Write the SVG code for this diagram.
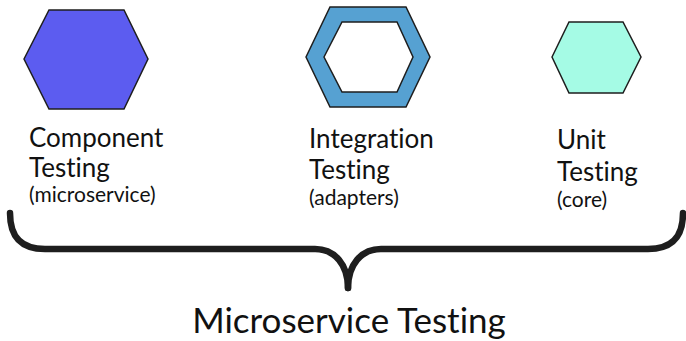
<svg xmlns="http://www.w3.org/2000/svg" width="686" height="341" viewBox="0 0 686 341">
<style>
text{font-family:Lato,"Open Sans",sans-serif;fill:#111;font-variant-ligatures:none;font-feature-settings:"liga" 0,"clig" 0}
.hex{stroke:#1e1e1e;stroke-width:1.5;stroke-linejoin:miter}
.lbl{font-size:26px}
.sub{font-size:21px}
.title{font-size:35px}
.brace{fill:none;stroke:#1e1e1e;stroke-width:6.5;stroke-linecap:round;stroke-linejoin:round}
</style>
<rect width="686" height="341" fill="#fff"/>
<g id="component">
<polygon class="hex" fill="#5c5cf0" points="24,59 49,10 124,10 148,59 124,109 49,109"/>
<text class="lbl" x="29" y="147">Component</text>
<text class="lbl" x="29" y="177">Testing</text>
<text class="sub" x="29" y="202">(microservice)</text>
</g>
<g id="integration">
<path class="hex" fill="#56a1d2" fill-rule="evenodd" d="M306,57 L330,7 L406,7 L430,57 L406,107 L330,107 Z M324,57 L342,22 L397,22 L413,57 L397,92 L342,92 Z"/>
<text class="lbl" x="309" y="148">Integration</text>
<text class="lbl" x="309" y="179">Testing</text>
<text class="sub" x="309" y="205">(adapters)</text>
</g>
<g id="unit">
<polygon class="hex" fill="#a5fbe5" points="552,57 569,22 623,22 641,57 623,93 569,93"/>
<text class="lbl" x="557" y="149">Unit</text>
<text class="lbl" x="557" y="181">Testing</text>
<text class="sub" x="557" y="207">(core)</text>
</g>
<g id="connectors">
<path class="brace" d="M10,213 C10,238 22,249 45,249 L315,249 C335,249 348,265 348,288"/>
<path class="brace" d="M683,213 C683,238 671,249 648,249 L381,249 C361,249 348,265 348,288"/>
</g>
<g id="summary">
<text class="title" x="349" y="333" text-anchor="middle">Microservice Testing</text>
</g>
</svg>
